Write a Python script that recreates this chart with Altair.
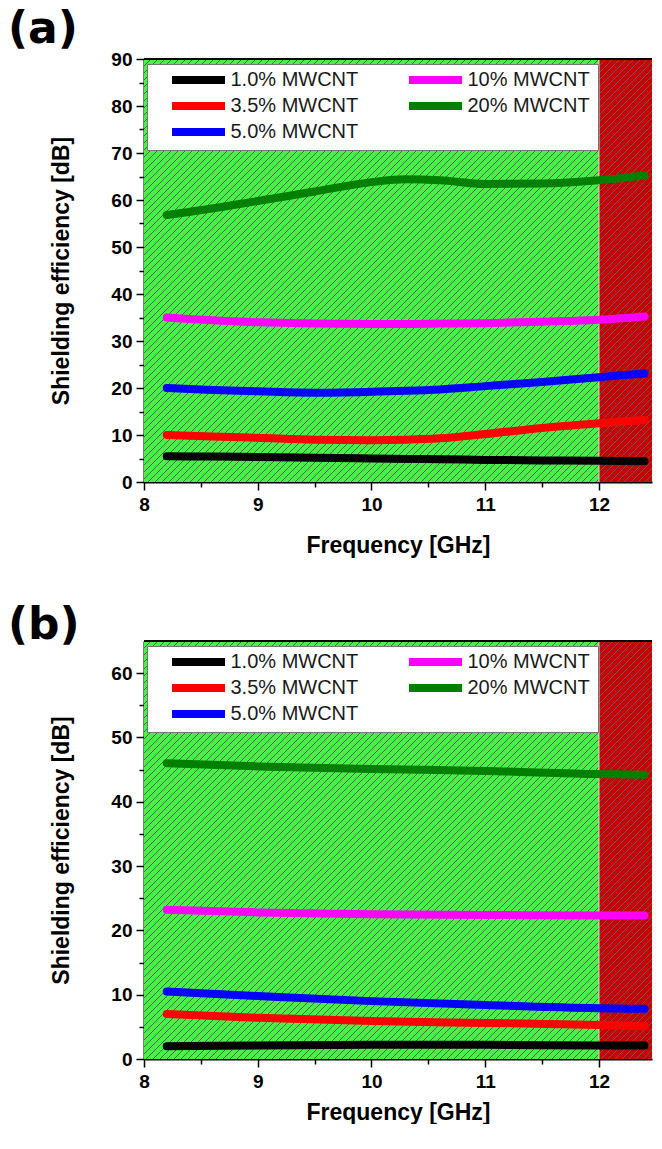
import altair as alt
import pandas as pd

# ---------------- data ----------------
series = ["1.0% MWCNT", "3.5% MWCNT", "5.0% MWCNT", "10% MWCNT", "20% MWCNT"]
series_colors = ["#000000", "#ff0000", "#0000ff", "#ff00ff", "#007f00"]

freq_a = [8.2, 8.6, 9.0, 9.5, 10.0, 10.3, 10.6, 11.0, 11.5, 12.0, 12.4]
a_1p0 = [5.5, 5.4, 5.3, 5.15, 5.0, 4.9, 4.85, 4.7, 4.6, 4.5, 4.4]
a_3p5 = [10.0, 9.7, 9.4, 9.0, 8.9, 9.0, 9.3, 10.2, 11.5, 12.5, 13.2]
a_5p0 = [20.0, 19.6, 19.3, 19.0, 19.2, 19.4, 19.7, 20.4, 21.3, 22.3, 23.1]
a_10 = [35.0, 34.4, 34.0, 33.7, 33.6, 33.6, 33.7, 33.8, 34.1, 34.5, 35.2]
a_20 = [56.8, 58.2, 59.8, 61.8, 63.8, 64.4, 64.2, 63.4, 63.5, 64.2, 65.2]

freq_b = [8.2, 9.0, 10.0, 11.0, 12.0, 12.4]
b_1p0 = [2.0, 2.1, 2.2, 2.2, 2.1, 2.1]
b_3p5 = [7.0, 6.4, 5.9, 5.6, 5.3, 5.1]
b_5p0 = [10.5, 9.8, 9.0, 8.4, 7.9, 7.8]
b_10 = [23.2, 22.8, 22.5, 22.4, 22.3, 22.3]
b_20 = [46.0, 45.5, 45.1, 44.8, 44.3, 44.2]

band_start = [8.0, 12.0]
band_end = [12.0, 13.0]
band_name = ["green", "red"]
band_fill = ["#46f446", "#c80000"]
band_edge = [12.0]

X_DOMAIN = [8, 12.466]
W = 508


def long_df(freq, cols):
    rows = []
    for name, vals in zip(series, cols):
        for f, v in zip(freq, vals):
            rows.append({"freq": f, "se": v, "series": name})
    return pd.DataFrame(rows)


df_a = long_df(freq_a, [a_1p0, a_3p5, a_5p0, a_10, a_20])
df_b = long_df(freq_b, [b_1p0, b_3p5, b_5p0, b_10, b_20])
bands = pd.DataFrame({"x0": band_start, "x1": band_end, "band": band_name})
edges = pd.DataFrame({"xe": band_edge})

FONT = "Liberation Sans"


def panel(df, ymax, yvals, height, label, label_dy, x_title_pad):
    xscale = alt.Scale(domain=X_DOMAIN, nice=False, zero=False)
    yscale = alt.Scale(domain=[0, ymax], nice=False, zero=True)
    xaxis = alt.Axis(
        title="Frequency [GHz]",
        values=[8, 8.5, 9, 9.5, 10, 10.5, 11, 11.5, 12],
        labelExpr="datum.value % 1 === 0 ? format(datum.value, 'd') : ''",
        tickSize={"condition": {"test": "datum.value % 1 === 0", "value": 8}, "value": 5},
        grid=False, domainColor="black", domainWidth=2, tickColor="black", tickWidth=1.5,
        labelFont=FONT, labelFontSize=19, labelFontWeight="bold", labelColor="black",
        labelPadding=5, titleFont=FONT, titleFontSize=23, titleFontWeight="bold",
        titleColor="black", titlePadding=x_title_pad, labelFlush=False, labelOverlap=False,
    )
    yaxis = alt.Axis(
        title="Shielding efficiency [dB]",
        values=yvals,
        labelExpr="datum.value % 10 === 0 ? format(datum.value, 'd') : ''",
        tickSize={"condition": {"test": "datum.value % 10 === 0", "value": 8}, "value": 5},
        grid=False, domainColor="black", domainWidth=2, tickColor="black", tickWidth=1.5,
        labelFont=FONT, labelFontSize=19, labelFontWeight="bold", labelColor="black",
        labelPadding=4, titleFont=FONT, titleFontSize=23, titleFontWeight="bold",
        titleColor="black", titlePadding=37, labelFlush=False, labelOverlap=False,
    )

    bg = alt.Chart(bands).mark_rect(clip=True).encode(
        x=alt.X("x0:Q", scale=xscale, axis=xaxis),
        x2="x1:Q",
        y=alt.value(0),
        y2=alt.value(height),
        fill=alt.Fill("band:N", scale=alt.Scale(domain=band_name, range=band_fill), legend=None),
    )

    hatch = alt.Chart(alt.sequence(0, 140, as_="k")).transform_calculate(
        hx1=f"datum.k * 7 - {height}",
        hx2="datum.k * 7",
        hy1=f"{height}",
        hy2="0",
    ).mark_rule(clip=True, stroke="#5e5e5e", strokeWidth=1.0).encode(
        x=alt.X("hx1:Q", scale=None, axis=None),
        x2="hx2:Q",
        y=alt.Y("hy1:Q", scale=None, axis=None),
        y2="hy2:Q",
    )

    edge = alt.Chart(edges).mark_rule(color="#d8d8d8", strokeWidth=1).encode(
        x=alt.X("xe:Q", scale=xscale, axis=xaxis), y=alt.value(0), y2=alt.value(height)
    )

    lines = alt.Chart(df).mark_line(
        strokeWidth=8, strokeCap="round", strokeJoin="round", interpolate="monotone"
    ).encode(
        x=alt.X("freq:Q", scale=xscale, axis=xaxis),
        y=alt.Y("se:Q", scale=yscale, axis=yaxis),
        color=alt.Color(
            "series:N",
            scale=alt.Scale(domain=series, range=series_colors),
            legend=alt.Legend(
                title=None, orient="none", legendX=3, legendY=5, columns=2,
                fillColor="white", strokeColor="#777777", padding=8,
                symbolType="M-2.65,0L2.65,0", symbolSize=400, symbolStrokeWidth=8,
                symbolOffset=29.5, clipHeight=16,
                labelFont=FONT, labelFontSize=20, labelColor="#1a1a1a",
                labelOffset=18, columnPadding=33, rowPadding=6, labelLimit=400,
            ),
        ),
        order=alt.Order("freq:Q"),
    )

    top = alt.Chart(pd.DataFrame({"t": [0]})).mark_rule(color="black", strokeWidth=2).encode(
        x=alt.value(0), x2=alt.value(W), y=alt.value(0)
    )

    tag = alt.Chart(pd.DataFrame({"tag": [label]})).mark_text(
        font="DejaVu Sans", fontSize=44, fontWeight="bold", align="left",
        baseline="top", color="black", clip=False,
    ).encode(x=alt.value(-136), y=alt.value(label_dy - 34.8), text="tag:N")

    return alt.layer(bg, hatch, edge, lines, top, tag).resolve_scale(fill="independent").properties(
        width=W, height=height
    )


pa = panel(df_a, 90, list(range(0, 91, 5)), 423, "(a)", -16, 20)
pb = panel(df_b, 65, list(range(0, 61, 5)), 418, "(b)", -2, 10)

chart = alt.vconcat(pa, pb, spacing=47).resolve_scale(
    color="independent", fill="independent"
).resolve_legend(color="independent").properties(
    padding={"left": 0, "top": 0, "right": 0, "bottom": 0}
).configure_view(stroke=None)

chart.save("out.html", embed_options={"renderer": "svg", "actions": False})
